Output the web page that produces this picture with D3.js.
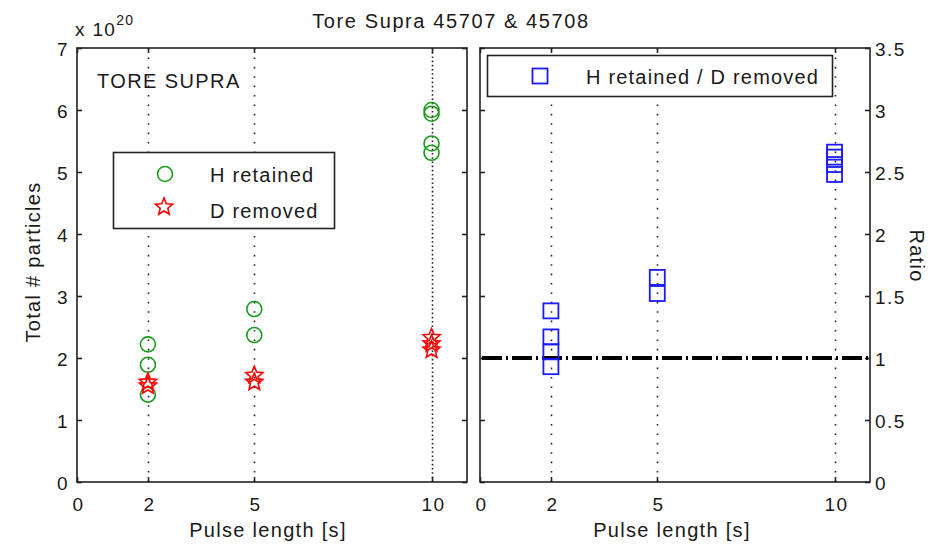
<!DOCTYPE html>
<html>
<head>
<meta charset="utf-8">
<script src="https://cdnjs.cloudflare.com/ajax/libs/d3/7.8.5/d3.min.js"></script>
<style>
  body { margin: 0; background: #fff; }
  svg text { font-family: "Liberation Sans", Arial, sans-serif; fill: #1a1a1a; }
</style>
</head>
<body>
<svg id="chart" width="940" height="545"></svg>
<script>
// Pulse lengths (s) and measured particle totals (units of 1e20)
const pulseTicks = [0, 2, 5, 10];
const hRetainedX = [2, 2, 2, 5, 5, 10, 10, 10, 10];
const hRetainedY = [2.22, 1.89, 1.41, 2.79, 2.37, 6.0, 5.94, 5.46, 5.31];
const dRemovedX = [2, 2, 5, 5, 10, 10, 10];
const dRemovedY = [1.61, 1.55, 1.72, 1.61, 2.33, 2.23, 2.13];
// Ratio H retained / D removed
const ratioX = [2, 2, 2, 2, 5, 5, 10, 10, 10, 10];
const ratioY = [1.38, 1.17, 1.05, 0.93, 1.65, 1.52, 2.66, 2.62, 2.56, 2.48];
const leftYTicks = [0, 1, 2, 3, 4, 5, 6, 7];
const rightYTicks = [0, 0.5, 1, 1.5, 2, 2.5, 3, 3.5];
const refRatio = 1;

const svg = d3.select("#chart");
const plotTop = 48, plotBottom = 482;

const xL = d3.scaleLinear().domain([0, 11]).range([77, 467]);
const yL = d3.scaleLinear().domain([0, 7]).range([plotBottom, plotTop]);
const xR = d3.scaleLinear().domain([0, 11]).range([480, 870]);
const yR = d3.scaleLinear().domain([0, 3.5]).range([plotBottom, plotTop]);

// text helper: size and tracking
function txt(parent, x, y, s, size, spacing, anchor) {
  return parent.append("text").attr("x", x).attr("y", y)
    .attr("font-size", size).attr("letter-spacing", spacing)
    .attr("text-anchor", anchor || "start").text(s);
}

function panel(x, y, yTicks, ySide, denseLast) {
  const g = svg.append("g");
  // dotted vertical grid at pulse lengths
  g.selectAll("line.grid").data(pulseTicks.filter(d => d > 0)).enter()
    .append("line")
    .attr("x1", d => Math.round(x(d)) + 0.5).attr("x2", d => Math.round(x(d)) + 0.5)
    .attr("y1", plotTop).attr("y2", plotBottom)
    .attr("stroke", "#222").attr("stroke-width", 1.6)
    .attr("stroke-dasharray", d => (denseLast && d === 10) ? "1.6,2.6" : "1.6,7.8");
  const [x0, x1] = x.range();
  const tl = 5;
  const axisStyle = sel => sel.attr("stroke", "#222").attr("stroke-width", 1.6);
  // inward ticks on all four sides
  pulseTicks.forEach(t => {
    const px = Math.round(x(t)) + 0.5;
    axisStyle(g.append("line").attr("x1", px).attr("x2", px).attr("y1", plotBottom).attr("y2", plotBottom - tl));
    axisStyle(g.append("line").attr("x1", px).attr("x2", px).attr("y1", plotTop).attr("y2", plotTop + tl));
    txt(g, px + 1, plotBottom + 29, t, 19, 1.5, "middle");
  });
  yTicks.forEach(t => {
    const py = Math.round(y(t)) + 0.5;
    axisStyle(g.append("line").attr("x1", x0).attr("x2", x0 + tl).attr("y1", py).attr("y2", py));
    axisStyle(g.append("line").attr("x1", x1).attr("x2", x1 - tl).attr("y1", py).attr("y2", py));
    if (ySide === "left") {
      txt(g, x0 - 8, py + 7, t, 19, 1.5, "end");
    } else {
      txt(g, x1 + 5, py + 7, t, 19, 1.5, "start");
    }
  });
  axisStyle(g.append("rect").attr("x", x0).attr("y", plotTop).attr("width", x1 - x0).attr("height", plotBottom - plotTop).attr("fill", "none"));
  return g;
}

const gL = panel(xL, yL, leftYTicks, "left", true);
const gR = panel(xR, yR, rightYTicks, "right", false);

// star symbol path (5-point outline)
function starPath(r) {
  const pts = [];
  for (let i = 0; i < 10; i++) {
    const a = -Math.PI / 2 + i * Math.PI / 5;
    const rr = i % 2 === 0 ? r : r * 0.45;
    pts.push([rr * Math.cos(a), rr * Math.sin(a)]);
  }
  return "M" + pts.map(p => p.join(",")).join("L") + "Z";
}

const green = "#1a9a1a", red = "#ff0000", blue = "#1a1aff";

// H retained circles
gL.selectAll("circle.h").data(hRetainedX.map((d, i) => [d, hRetainedY[i]])).enter()
  .append("circle")
  .attr("cx", d => xL(d[0])).attr("cy", d => yL(d[1])).attr("r", 7.5)
  .attr("fill", "none").attr("stroke", green).attr("stroke-width", 1.6);

// D removed stars
gL.selectAll("path.d").data(dRemovedX.map((d, i) => [d, dRemovedY[i]])).enter()
  .append("path")
  .attr("d", starPath(9))
  .attr("transform", d => `translate(${xL(d[0])},${yL(d[1])})`)
  .attr("fill", "none").attr("stroke", red).attr("stroke-width", 1.6);

// left legend
const lg = gL.append("g");
lg.append("rect").attr("x", 113.5).attr("y", 152.5).attr("width", 221).attr("height", 76)
  .attr("fill", "#fff").attr("stroke", "#222").attr("stroke-width", 1.6);
lg.append("circle").attr("cx", 165).attr("cy", 174).attr("r", 7.5)
  .attr("fill", "none").attr("stroke", green).attr("stroke-width", 1.6);
txt(lg, 210, 182, "H retained", 20, 1.2);
lg.append("path").attr("d", starPath(9)).attr("transform", "translate(164,207)")
  .attr("fill", "none").attr("stroke", red).attr("stroke-width", 1.6);
txt(lg, 210, 218, "D removed", 20, 1.2);

txt(gL, 97, 88, "TORE SUPRA", 20, 1.4);

// reference ratio line
gR.append("line")
  .attr("x1", xR.range()[0] + 2).attr("x2", xR.range()[1])
  .attr("y1", yR(refRatio)).attr("y2", yR(refRatio))
  .attr("stroke", "#000").attr("stroke-width", 4)
  .attr("stroke-dasharray", "20,4,2,4");

// ratio squares
gR.selectAll("rect.r").data(ratioX.map((d, i) => [d, ratioY[i]])).enter()
  .append("rect")
  .attr("x", d => xR(d[0]) - 7.5).attr("y", d => yR(d[1]) - 7.5)
  .attr("width", 15).attr("height", 15)
  .attr("fill", "none").attr("stroke", blue).attr("stroke-width", 1.8);

// right legend
const rg = gR.append("g");
rg.append("rect").attr("x", 487.5).attr("y", 55.5).attr("width", 345).attr("height", 41)
  .attr("fill", "#fff").attr("stroke", "#222").attr("stroke-width", 1.6);
rg.append("rect").attr("x", 532.5).attr("y", 68.5).attr("width", 15).attr("height", 15)
  .attr("fill", "none").attr("stroke", blue).attr("stroke-width", 1.8);
txt(rg, 586, 84, "H retained / D removed", 20, 1.2);

// title and axis labels
txt(svg, 451, 28, "Tore Supra 45707 & 45708", 20, 1.6, "middle");
const mult = txt(svg, 75, 36, "", 19, 1.3);
mult.append("tspan").text("x 10");
mult.append("tspan").attr("dy", -11).attr("font-size", 14).text("20");
txt(svg, 268, 537, "Pulse length [s]", 20, 1.3, "middle");
txt(svg, 672, 537, "Pulse length [s]", 20, 1.3, "middle");
svg.append("text").attr("transform", "translate(40,262) rotate(-90)")
  .attr("text-anchor", "middle").attr("font-size", 20).attr("letter-spacing", 1.3)
  .text("Total # particles");
svg.append("text").attr("transform", "translate(910,256) rotate(90)")
  .attr("text-anchor", "middle").attr("font-size", 20).attr("letter-spacing", 1.3)
  .text("Ratio");
</script>
</body>
</html>
